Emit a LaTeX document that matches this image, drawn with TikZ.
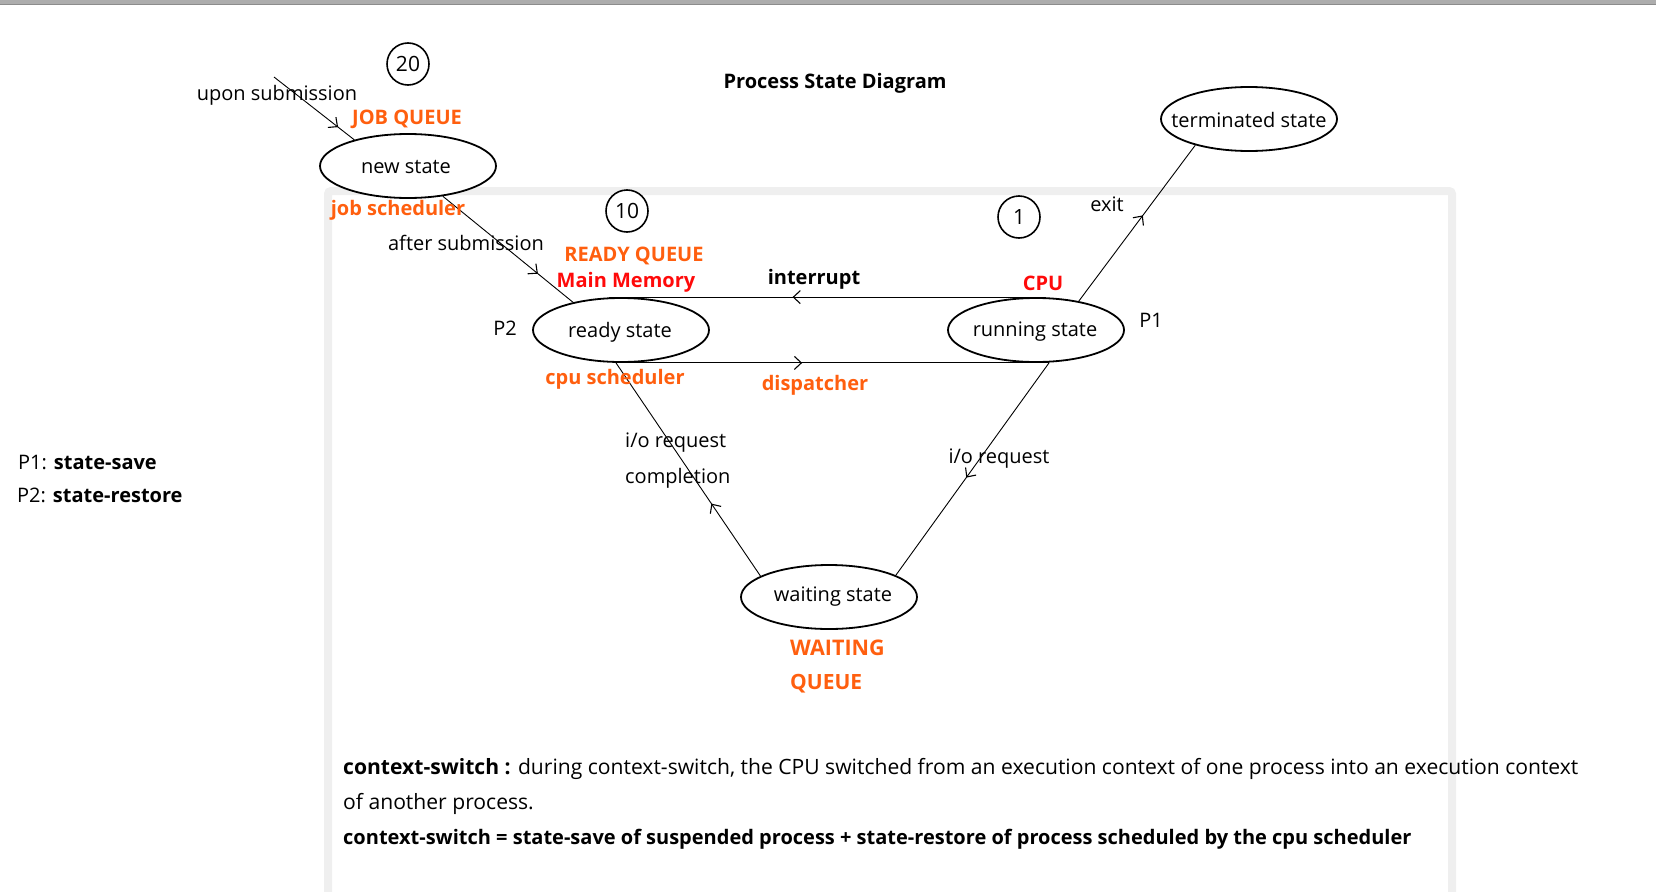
\documentclass[tikz,border=0pt]{standalone}
\usepackage{fontspec}
\setmainfont{Open Sans}
\usetikzlibrary{arrows.meta,decorations.markings,shapes.geometric}
\definecolor{qorange}{HTML}{FF5F0F}
\definecolor{qred}{HTML}{FF0A0A}
\definecolor{framegray}{HTML}{EFEFEF}
\definecolor{bargray}{HTML}{ADADAD}
\begin{document}
\begin{tikzpicture}[x=1pt,y=-1pt,
  every node/.style={font=\fontsize{20}{24}\selectfont, inner sep=0pt},
  stateell/.style={ellipse, draw, line width=1.8pt, fill=white, minimum width=176pt, minimum height=64pt, inner sep=0pt},
  numcirc/.style={circle, draw, line width=1.6pt, fill=white, minimum size=42pt, inner sep=0pt, font=\fontsize{21}{24}\selectfont},
  olbl/.style={text=qorange, font=\fontsize{20}{24}\selectfont\bfseries},
  rlbl/.style={text=qred, font=\fontsize{20}{24}\selectfont\bfseries},
  blbl/.style={font=\fontsize{20}{24}\selectfont\bfseries},
  conn/.style={line width=0.9pt},
  midarrow/.style={postaction={decorate}, decoration={markings, mark=at position #1 with {\arrow{Straight Barb[length=7pt,width=13pt,line width=1.1pt]}}}}
]
\useasboundingbox (0,0) rectangle (1656,891);
% top bar and frame
\fill[bargray] (0,0) rectangle (1656,4);
\draw[black!45, line width=0.8pt] (0,4.3) -- (1656,4.3);
\draw[framegray, line width=8pt, rounded corners=3pt] (328,900) -- (328,191) -- (1452,191) -- (1452,900);

% title
\node[blbl] (title) at (835,83) {Process State Diagram};

% states
\node[stateell] (new) at (408,166) {};
\node (newt) at (406,167) {new state};
\node[stateell] (ready) at (621,330) {};
\node (readyt) at (620,332) {ready state};
\node[stateell] (running) at (1036,330) {};
\node (runningt) at (1035,332) {running state};
\node[stateell] (term) at (1249,119) {};
\node (termt) at (1249,120) {terminated state};
\node[stateell] (waiting) at (829,597) {};
\node (waitingt) at (833,597) {waiting state};

% numbered circles
\node[numcirc] (c20) at (408,64) {20};
\node[numcirc] (c10) at (627,211) {10};
\node[numcirc] (c1) at (1019,217) {1};

% connectors
\coordinate (subm) at (274,77);
\draw[conn, midarrow=0.8] (subm) -- (new.154.7);
\draw[conn, midarrow=0.73] (new.-41.5) -- (ready.150.3);
\draw[conn, midarrow=0.58] ([xshift=10pt]running.north) -- ([xshift=-12pt]ready.north);
\draw[conn, midarrow=0.43] ([xshift=-5pt]ready.south) -- ([xshift=13pt]running.south);
\draw[conn, midarrow=0.55] (running.34.9) -- (term.206.6);
\draw[conn, midarrow=0.54] ([xshift=13pt]running.south) -- (waiting.18.9);
\draw[conn, midarrow=0.34] (waiting.163.5) -- ([xshift=-5pt]ready.south);

% labels
\node (lupon) at (277,95) {upon submission};
\node[olbl] (ljob) at (407,119) {JOB QUEUE};
\node[olbl] (ljobs) at (398,210) {job scheduler};
\node (lafter) at (466,243) {after submission};
\node[olbl] (lready) at (634,256) {READY QUEUE};
\node[rlbl] (lmem) at (626,282) {Main Memory};
\node[blbl] (lint) at (814,279) {interrupt};
\node[rlbl] (lcpu) at (1043,283) {CPU};
\node (lp2) at (505,328) {P2};
\node (lp1) at (1151,320) {P1};
\node[olbl] (lcpus) at (615,379) {cpu scheduler};
\node[olbl] (ldisp) at (815,385) {dispatcher};
\node (lexit) at (1107,204) {exit};
\node[anchor=west] (lio1) at (625,443) {i/o request};
\node[anchor=west] (lcomp) at (625,478) {completion};
\node (lio2) at (999,459) {i/o request};
\node[olbl, anchor=west, font=\fontsize{21.5}{24}\selectfont\bfseries] (lwait1) at (790,648) {WAITING};
\node[olbl, anchor=west, font=\fontsize{21}{24}\selectfont\bfseries] (lwait2) at (790,684) {QUEUE};

% legend
\node[anchor=west] (leg1) at (18,462) {P1: \textbf{state-save}};
\node[anchor=west] (leg2) at (17,495) {P2: \textbf{state-restore}};

% bottom text
\node[anchor=west, font=\fontsize{21.1}{24}\selectfont] (ctx1) at (343,769) {\textbf{context-switch :} during context-switch, the CPU switched from an execution context of one process into an execution context};
\node[anchor=west, font=\fontsize{21.1}{24}\selectfont] (ctx2) at (343,804) {of another process.};
\node[anchor=west, blbl] (ctx3) at (343,839) {context-switch = state-save of suspended process + state-restore of process scheduled by the cpu scheduler};
\end{tikzpicture}
\end{document}
